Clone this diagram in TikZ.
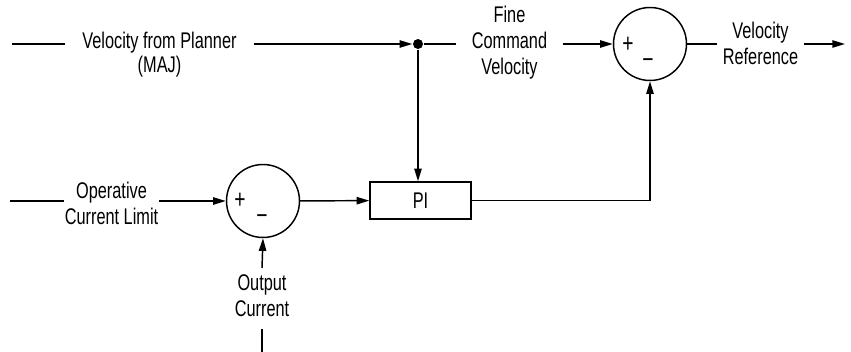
\documentclass[tikz,border=0pt]{standalone}
\usepackage{fontspec}
\setmainfont{Liberation Sans}[FakeStretch=0.72]
\usetikzlibrary{arrows.meta,positioning}

\begin{document}
\begin{tikzpicture}[
        x=0.75pt, y=-0.75pt,
        >={Triangle[length=9.5pt,width=5.5pt]},
        line width=1.1pt,
        font=\fontsize{17}{19.5}\selectfont,
        sumnode/.style={
            draw,
            circle,
            minimum size=54.75pt,
            inner sep=0pt
        },
        blockbox/.style={
            draw,
            minimum width=75.75pt,
            minimum height=27.75pt,
            inner sep=0pt
        },
        sigtext/.style={
            align=center,
            inner sep=0pt
        },
        signmark/.style={
            inner sep=0pt,
            font=\fontsize{20}{20}\selectfont
        },
        junction/.style={
            circle,
            fill,
            inner sep=0pt,
            minimum size=7.5pt
        }
    ]
        \useasboundingbox (0,0) rectangle (851,352);

        % upper path
        \coordinate (vin) at (12,44);
        \node[sigtext, minimum width=140pt] (planner) at (159.5,43) {Velocity from Planner};
        \node[sigtext] (maj) at (159.5,67) {(MAJ)};
        \node[junction] (split) at (418,44) {};
        \node[sigtext, minimum width=78.75pt] (fine) at (509.5,43) {Fine\\Command\\Velocity};
        \node[sumnode] (sumvel) at (650,44) {};
        \node[signmark] at (628,45) {+};
        \node[signmark] at (648,64) {−};
        \node[sigtext, minimum width=63.75pt] (vref) at (760.5,43) {Velocity\\Reference};
        \coordinate (vout) at (845,44);

        % lower path
        \coordinate (iin) at (10,201);
        \node[sigtext, minimum width=69.75pt] (limit) at (111.5,203) {Operative\\Current Limit};
        \node[sumnode] (sumcur) at (263,201) {};
        \node[signmark] at (240,201) {+};
        \node[signmark] at (262,220) {−};
        \node[blockbox] (pi) at (420.5,200.5) {PI};
        \node[sigtext] (outcur) at (262,296) {Output\\Current};
        \coordinate (ifb) at (262,352);
        \coordinate (fbend) at (262,329);
        \coordinate (fbstart) at (262,268);

        \draw (vin) -- (vin -| planner.west);
        \draw[->] (planner.east |- split) -- (split);
        \draw (split) -- (split -| fine.west);
        \draw[->] (fine.east |- sumvel) -- (sumvel);
        \draw (sumvel) -- (sumvel -| vref.west);
        \draw[->] (vref.east |- vout) -- (vout);
        \draw[->] (split) -- (split |- pi.north);

        \draw (iin) -- (limit.west |- iin);
        \draw[->] (limit.east |- iin) -- (sumcur);
        \draw[->] (sumcur) -- (pi);
        \draw[->] (pi.east) -| (sumvel.south);
        \draw (ifb) -- (fbend);
        \draw[->] (fbstart) -- (sumcur.south);
    \end{tikzpicture}
\end{document}
